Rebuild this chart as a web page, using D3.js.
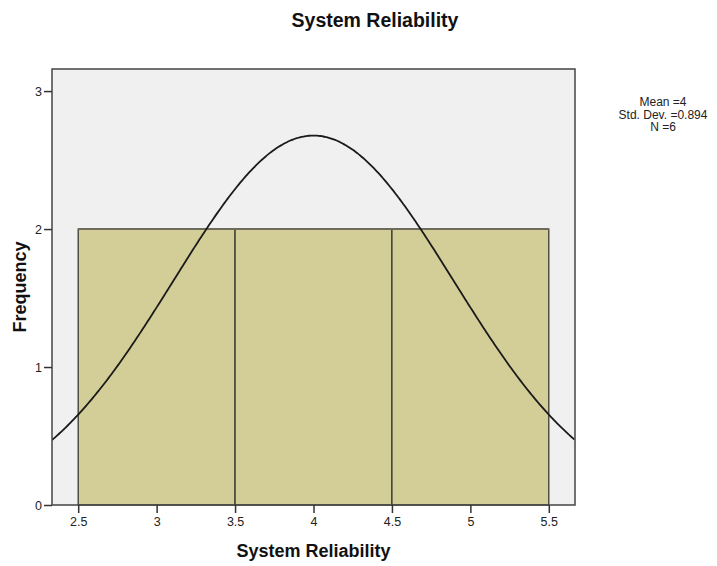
<!DOCTYPE html>
<html>
<head>
<meta charset="utf-8">
<script src="https://cdn.jsdelivr.net/npm/d3@7"></script>
<style>
body { margin: 0; background: #fff; }
text { font-family: "Liberation Sans", Arial, sans-serif; }
</style>
</head>
<body>
<div id="viz"></div>
<script>
var width = 717;
var height = 566;

// histogram data
var binStarts = [2.5, 3.5, 4.5];
var binWidth = 1;
var counts = [2, 2, 2];
var xTicks = [2.5, 3, 3.5, 4, 4.5, 5, 5.5];
var yTicks = [0, 1, 2, 3];
var mean = 4;
var stdDev = 0.894;
var n = 6;
var legendLines = ["Mean =4", "Std. Dev. =0.894", "N =6"];

// plot box (window.top is reserved, so use other names)
var plotLeft = 52, plotRight = 575, plotTop = 69, plotBottom = 505;

var canvas = d3.select('#viz')
	.append('svg')
	.attr("width", width)
	.attr("height", height);

var x = d3.scaleLinear()
	.domain([2.333, 5.667])
	.range([plotLeft, plotRight]);

var y = d3.scaleLinear()
	.domain([0, 3.16])
	.range([plotBottom, plotTop]);

// plot background
canvas.append("rect")
	.attr("x", plotLeft)
	.attr("y", plotTop)
	.attr("width", plotRight - plotLeft)
	.attr("height", plotBottom - plotTop)
	.attr("fill", "#f0f0f0");

canvas.append("clipPath").attr("id", "plotclip")
	.append("rect")
	.attr("x", plotLeft)
	.attr("y", plotTop)
	.attr("width", plotRight - plotLeft)
	.attr("height", plotBottom - plotTop);

// bars
canvas.append("g")
	.selectAll("rect")
	.data(binStarts)
	.enter()
	.append("rect")
	.attr("x", function(d){ return x(d); })
	.attr("y", function(d, i){ return y(counts[i]); })
	.attr("width", function(d){ return x(d + binWidth) - x(d); })
	.attr("height", function(d, i){ return y(0) - y(counts[i]); })
	.attr("fill", "#d3ce97")
	.attr("stroke", "#3a3a30")
	.attr("stroke-width", 1.3);

// top edge of bars is a little lighter
canvas.append("line")
	.attr("x1", x(binStarts[0]))
	.attr("x2", x(binStarts[binStarts.length - 1] + binWidth))
	.attr("y1", y(counts[0]))
	.attr("y2", y(counts[0]))
	.attr("stroke", "#6e6b5c")
	.attr("stroke-width", 2);

// fitted normal curve
var curvePts = d3.range(x.domain()[0], x.domain()[1] + 0.005, 0.01).map(function(v){
	var z = (v - mean) / stdDev;
	return [v, n * binWidth * Math.exp(-0.5 * z * z) / (stdDev * Math.sqrt(2 * Math.PI))];
});

var line = d3.line()
	.x(function(d){ return x(d[0]); })
	.y(function(d){ return y(d[1]); })
	.curve(d3.curveBasis);

canvas.append("path")
	.datum(curvePts)
	.attr("d", line)
	.attr("clip-path", "url(#plotclip)")
	.attr("fill", "none")
	.attr("stroke", "#1a1a1a")
	.attr("stroke-width", 1.8);

// frame
canvas.append("rect")
	.attr("x", plotLeft)
	.attr("y", plotTop)
	.attr("width", plotRight - plotLeft)
	.attr("height", plotBottom - plotTop)
	.attr("fill", "none")
	.attr("stroke", "#444")
	.attr("stroke-width", 1.5);

// axes
var xAxis = d3.axisBottom(x)
	.tickValues(xTicks)
	.tickSize(8)
	.tickSizeOuter(0)
	.tickFormat(d3.format("~g"));

var yAxis = d3.axisLeft(y)
	.tickValues(yTicks)
	.tickSize(8)
	.tickSizeOuter(0)
	.tickFormat(d3.format("d"));

var gx = canvas.append("g")
	.attr("transform", "translate(0," + plotBottom + ")")
	.call(xAxis);

var gy = canvas.append("g")
	.attr("transform", "translate(" + plotLeft + ",0)")
	.call(yAxis);

[gx, gy].forEach(function(g){
	g.select(".domain").remove();
	g.selectAll(".tick line").attr("stroke", "#333").attr("stroke-width", 1.5);
	g.selectAll(".tick text")
		.attr("fill", "#222")
		.attr("font-size", 12.5)
		.attr("font-family", "Liberation Sans, Arial, sans-serif");
});
gx.selectAll(".tick text").attr("dy", "0.85em").attr("y", 10);
gy.selectAll(".tick text").attr("x", -10);

// title and axis labels
canvas.append("text")
	.attr("x", 375)
	.attr("y", 27)
	.attr("text-anchor", "middle")
	.attr("font-size", 19.5)
	.attr("font-weight", "bold")
	.attr("fill", "#111")
	.text("System Reliability");

canvas.append("text")
	.attr("x", (plotLeft + plotRight) / 2)
	.attr("y", 557)
	.attr("text-anchor", "middle")
	.attr("font-size", 18)
	.attr("font-weight", "bold")
	.attr("fill", "#111")
	.text("System Reliability");

canvas.append("text")
	.attr("transform", "translate(26," + ((plotTop + plotBottom) / 2) + ") rotate(-90)")
	.attr("text-anchor", "middle")
	.attr("font-size", 18)
	.attr("font-weight", "bold")
	.attr("fill", "#111")
	.text("Frequency");

// stats legend
canvas.append("g")
	.selectAll("text")
	.data(legendLines)
	.enter()
	.append("text")
	.attr("x", 663)
	.attr("y", function(d, i){ return 106 + i * 12.5; })
	.attr("text-anchor", "middle")
	.attr("font-size", 12)
	.attr("fill", "#222")
	.text(function(d){ return d; });
</script>
</body>
</html>
